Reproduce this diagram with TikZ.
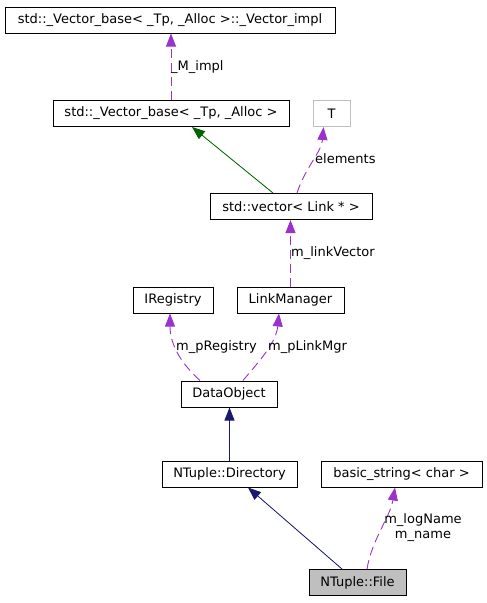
\documentclass[tikz,border=0pt]{standalone}
\usepackage{fontspec}
\setmainfont{DejaVu Sans}
\usetikzlibrary{arrows.meta}
\definecolor{purp}{HTML}{9A32CD}
\definecolor{dgreen}{HTML}{006400}
\definecolor{mblue}{HTML}{191970}
\definecolor{lgray}{HTML}{BFBFBF}
\begin{document}
\begin{tikzpicture}[x=1pt,y=-1pt,
  font=\fontsize{13}{16}\selectfont,
  cls/.style={draw=black,line width=1pt,inner sep=0pt,minimum height=26pt,anchor=center},
  usage/.style={draw=purp,line width=0.9pt,dash pattern=on 9pt off 5pt,-{Triangle[length=13pt,width=10pt,fill=purp]}},
  inherit/.style={line width=0.8pt,-{Triangle[length=13pt,width=10pt]}},
  lbl/.style={inner sep=0pt,anchor=west}]
\useasboundingbox (0,0) rectangle (487,603);
\node[cls,minimum width=330pt] (impl) at (170,20) {std::\_Vector\_base< \_Tp, \_Alloc >::\_Vector\_impl};
\node[cls,minimum width=236pt] (base) at (171,113.5) {std::\_Vector\_base< \_Tp, \_Alloc >};
\node[cls,draw=lgray,minimum width=37pt] (T) at (331.5,113.5) {T};
\node[cls,minimum width=162pt] (vec) at (291,206.5) {std::vector< Link * >};
\node[cls,minimum width=80pt] (ireg) at (173,300) {IRegistry};
\node[cls,minimum width=107pt] (lm) at (290.5,300) {LinkManager};
\node[cls,minimum width=96pt] (do) at (229,394) {DataObject};
\node[cls,minimum width=135pt] (dir) at (229.5,474) {NTuple::Directory};
\node[cls,minimum width=161pt] (bs) at (401.5,474) {basic\_string< char >};
\node[cls,fill=lgray,minimum width=97pt] (file) at (357.5,582.5) {NTuple::File};

\draw[usage] (base.north) -- (base.north |- impl.south);
\node[lbl] (lmimpl) at (171,67) {\_M\_impl};

\draw[inherit,draw=dgreen,fill=dgreen] ([xshift=-18pt]vec.north) -- ([xshift=21pt]base.south);
\draw[usage] ([xshift=6pt]vec.north) .. controls +(8,-25) and +(-2,25) .. ([xshift=-8pt]T.south);
\node[lbl] (lel) at (315,159) {elements};

\draw[usage] (lm.north) -- (lm.north |- vec.south);
\node[lbl] (llv) at (291,253) {m\_linkVector};

\draw[usage] ([xshift=-29pt]do.north) .. controls +(-20,-18) and +(0,30) .. ([xshift=-3pt]ireg.south);
\node[lbl] (lreg) at (176,347) {m\_pRegistry};
\draw[usage] ([xshift=14pt]do.north) .. controls +(15,-18) and +(-3,30) .. ([xshift=-11.5pt]lm.south);
\node[lbl] (llm) at (268,347) {m\_pLinkMgr};

\draw[inherit,draw=mblue,fill=mblue] (dir.north) -- (dir.north |- do.south);
\draw[inherit,draw=mblue,fill=mblue] ([xshift=-15.5pt]file.north) -- ([xshift=18.5pt]dir.south);
\draw[usage] ([xshift=9.5pt]file.north) .. controls +(5,-30) and +(-5,30) .. ([xshift=-6.5pt]bs.south);
\node[align=center,inner sep=0pt] (lname) at (423,528) {m\_logName\\[-1pt]m\_name};
\end{tikzpicture}
\end{document}
